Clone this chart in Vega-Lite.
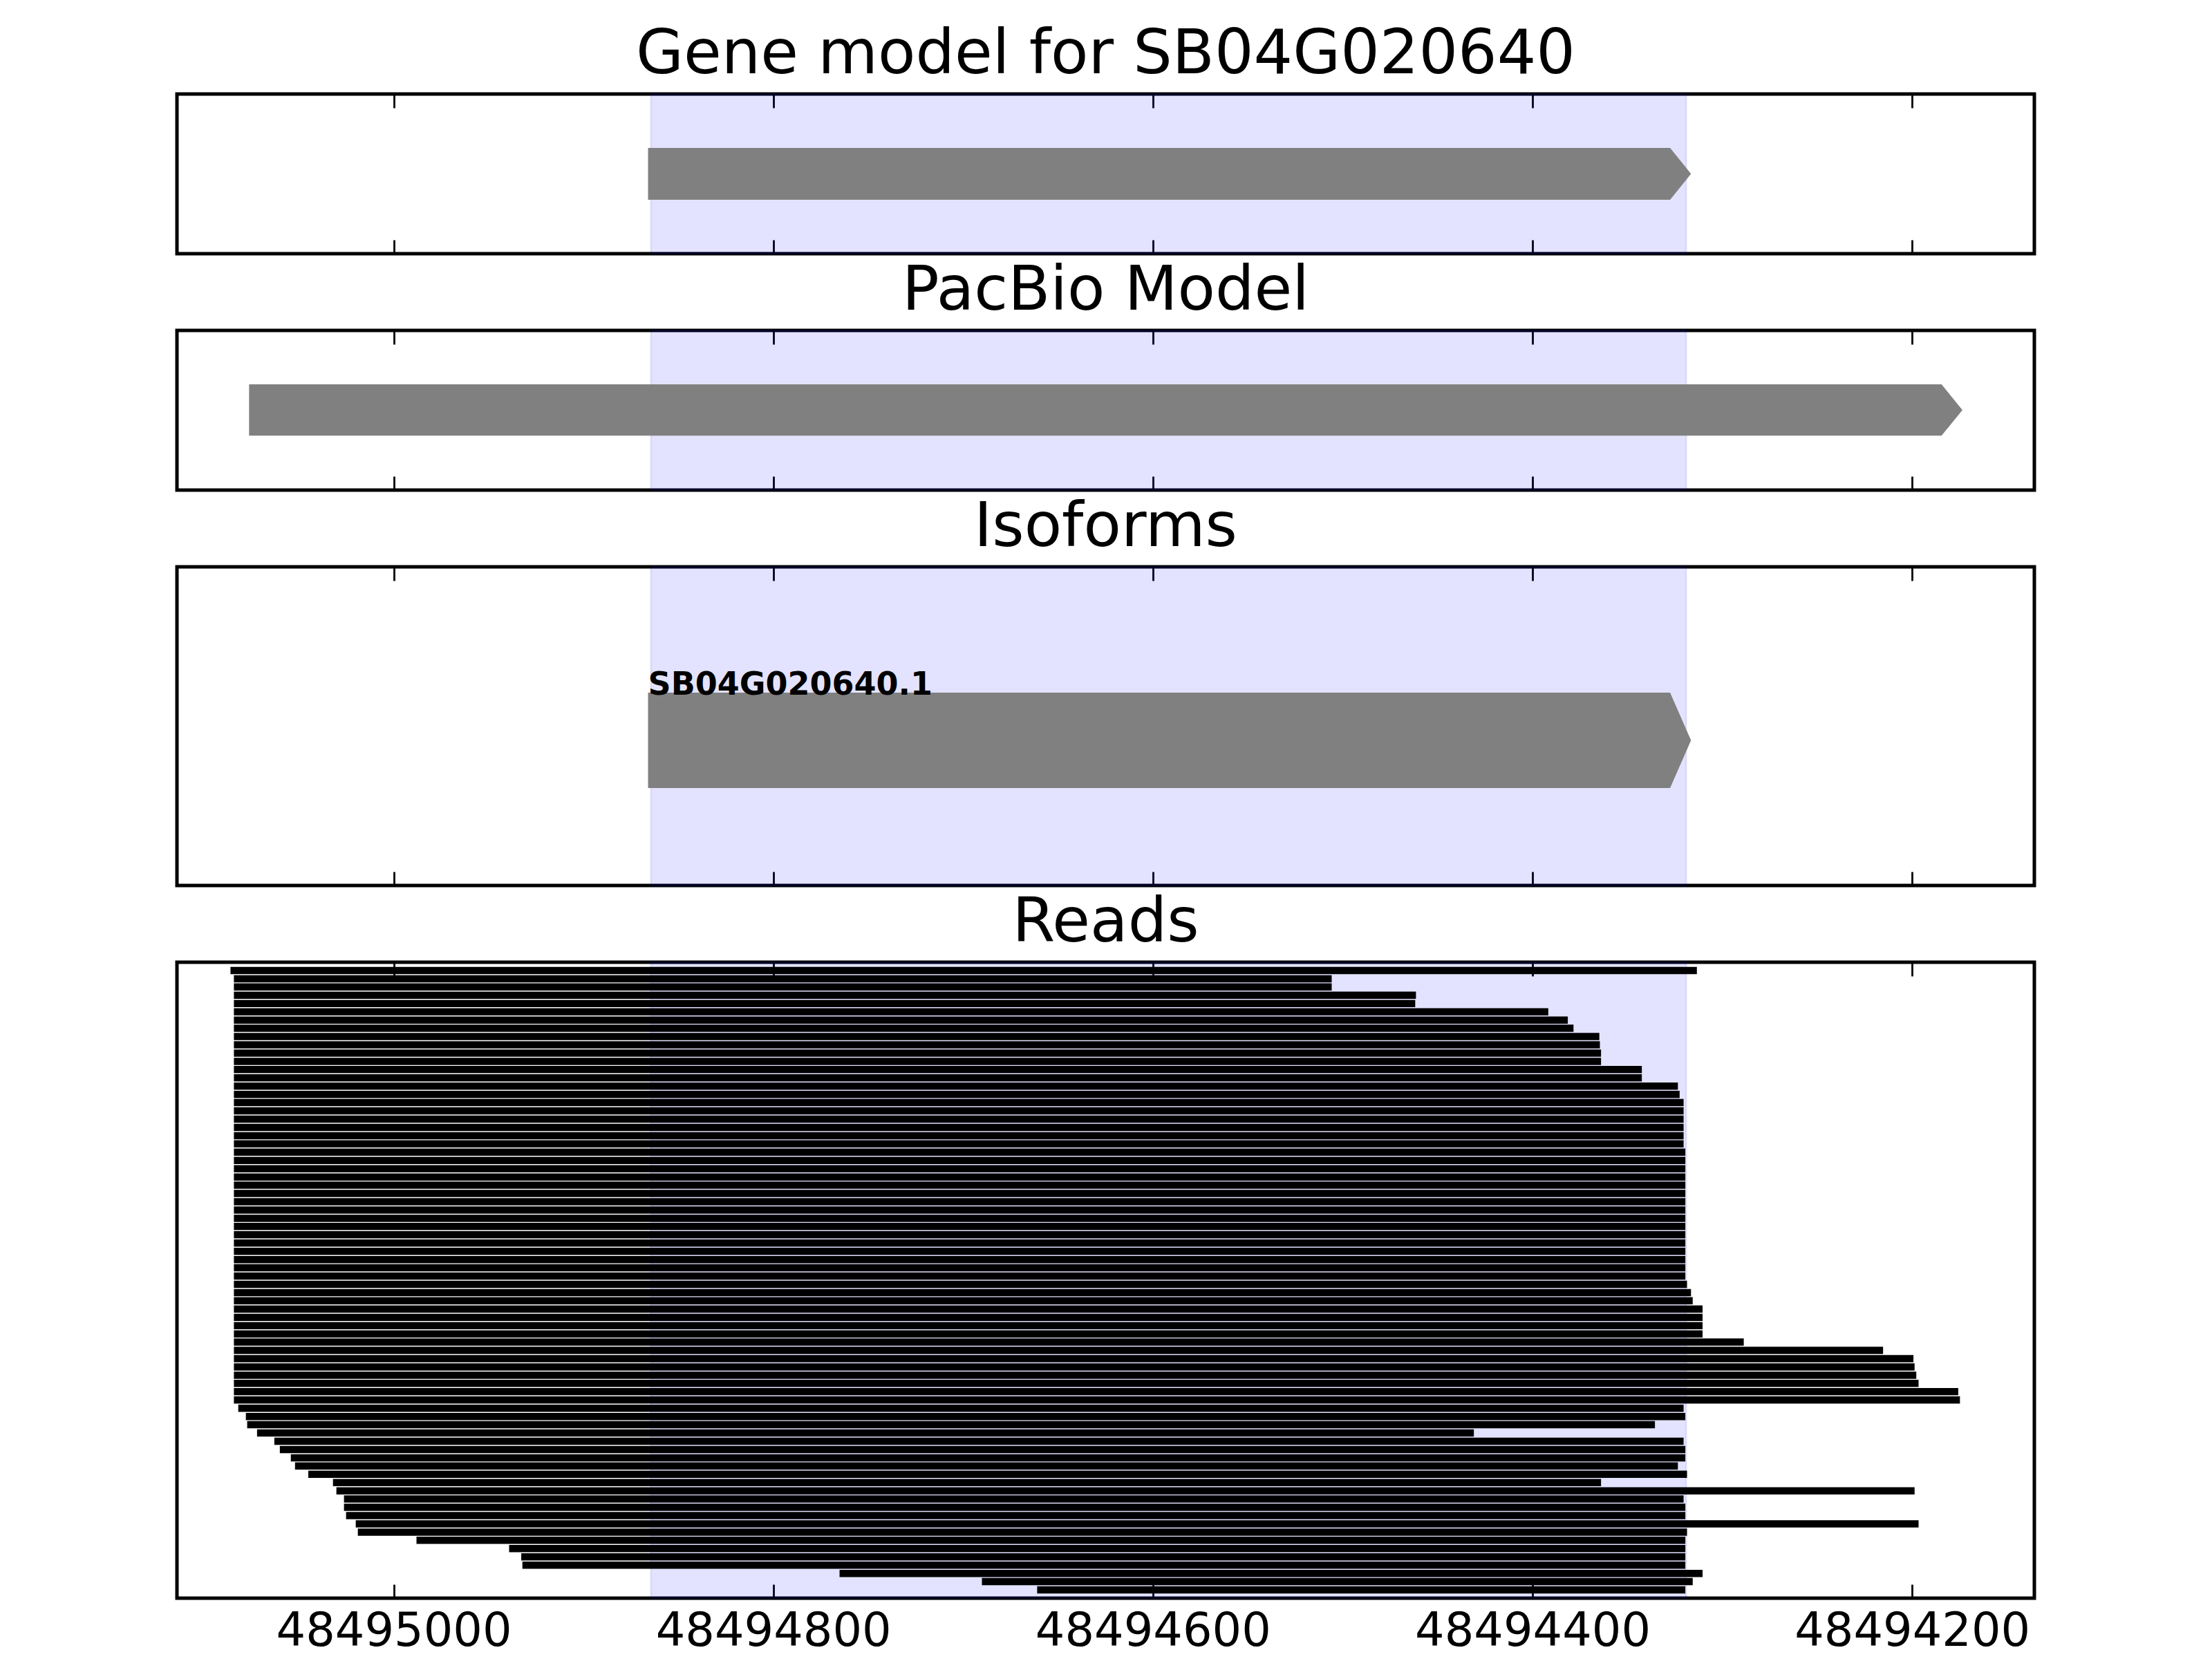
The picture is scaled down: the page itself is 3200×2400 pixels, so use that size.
{
  "$schema": "https://vega.github.io/schema/vega-lite/v6.json",
  "background": "white",
  "padding": {"left": 253, "top": 32, "right": 10, "bottom": 10},
  "spacing": 111,
  "bounds": "flush",
  "config": {
    "view": {"stroke": "black", "strokeWidth": 5},
    "font": "DejaVu Sans",
    "title": {"fontSize": 89, "fontWeight": "normal", "font": "DejaVu Sans", "color": "black", "anchor": "middle", "baseline": "alphabetic", "offset": 10},
    "axis": {"domain": false, "grid": false, "ticks": true, "tickSize": -20, "tickWidth": 2.8, "tickColor": "black", "title": null, "labelFlush": false, "labelOverlap": false, "labelLimit": 0}
  },
  "datasets": {
    "shade": [{"start": 48494864.5, "end": 48494319}],
    "gene": [
      {"pos": 48494866, "lo": 0.338, "hi": 0.662},
      {"pos": 48494327.5, "lo": 0.338, "hi": 0.662},
      {"pos": 48494316.5, "lo": 0.5, "hi": 0.5}
    ],
    "pacbio": [
      {"pos": 48495076.2, "lo": 0.341, "hi": 0.662},
      {"pos": 48494184.5, "lo": 0.341, "hi": 0.662},
      {"pos": 48494173.5, "lo": 0.5015, "hi": 0.5015}
    ],
    "isoform": [
      {"pos": 48494866, "lo": 0.306, "hi": 0.605},
      {"pos": 48494327.5, "lo": 0.306, "hi": 0.605},
      {"pos": 48494316.5, "lo": 0.4555, "hi": 0.4555}
    ],
    "isolabel": [{"name": "SB04G020640.1", "start": 48494866}],
    "reads": [
      {"row": 1, "start": 48495086.0, "end": 48494313.4},
      {"row": 2, "start": 48495084.2, "end": 48494505.8},
      {"row": 3, "start": 48495084.2, "end": 48494505.8},
      {"row": 4, "start": 48495084.2, "end": 48494461.4},
      {"row": 5, "start": 48495084.2, "end": 48494461.8},
      {"row": 6, "start": 48495084.2, "end": 48494391.7},
      {"row": 7, "start": 48495084.2, "end": 48494381.4},
      {"row": 8, "start": 48495084.2, "end": 48494378.4},
      {"row": 9, "start": 48495084.2, "end": 48494364.8},
      {"row": 10, "start": 48495084.2, "end": 48494364.5},
      {"row": 11, "start": 48495084.2, "end": 48494363.9},
      {"row": 12, "start": 48495084.2, "end": 48494363.9},
      {"row": 13, "start": 48495084.2, "end": 48494342.4},
      {"row": 14, "start": 48495084.2, "end": 48494342.4},
      {"row": 15, "start": 48495084.2, "end": 48494323.4},
      {"row": 16, "start": 48495084.2, "end": 48494322.5},
      {"row": 17, "start": 48495084.2, "end": 48494320.4},
      {"row": 18, "start": 48495084.2, "end": 48494320.4},
      {"row": 19, "start": 48495084.2, "end": 48494320.4},
      {"row": 20, "start": 48495084.2, "end": 48494320.4},
      {"row": 21, "start": 48495084.2, "end": 48494320.4},
      {"row": 22, "start": 48495084.2, "end": 48494320.4},
      {"row": 23, "start": 48495084.2, "end": 48494319.5},
      {"row": 24, "start": 48495084.2, "end": 48494319.5},
      {"row": 25, "start": 48495084.2, "end": 48494319.5},
      {"row": 26, "start": 48495084.2, "end": 48494319.5},
      {"row": 27, "start": 48495084.2, "end": 48494319.5},
      {"row": 28, "start": 48495084.2, "end": 48494319.5},
      {"row": 29, "start": 48495084.2, "end": 48494319.5},
      {"row": 30, "start": 48495084.2, "end": 48494319.5},
      {"row": 31, "start": 48495084.2, "end": 48494319.5},
      {"row": 32, "start": 48495084.2, "end": 48494319.5},
      {"row": 33, "start": 48495084.2, "end": 48494319.5},
      {"row": 34, "start": 48495084.2, "end": 48494319.5},
      {"row": 35, "start": 48495084.2, "end": 48494319.5},
      {"row": 36, "start": 48495084.2, "end": 48494319.5},
      {"row": 37, "start": 48495084.2, "end": 48494319.5},
      {"row": 38, "start": 48495084.2, "end": 48494319.5},
      {"row": 39, "start": 48495084.2, "end": 48494318.6},
      {"row": 40, "start": 48495084.2, "end": 48494316.5},
      {"row": 41, "start": 48495084.2, "end": 48494315.6},
      {"row": 42, "start": 48495084.2, "end": 48494310.4},
      {"row": 43, "start": 48495084.2, "end": 48494310.4},
      {"row": 44, "start": 48495084.2, "end": 48494310.4},
      {"row": 45, "start": 48495084.2, "end": 48494310.4},
      {"row": 46, "start": 48495084.2, "end": 48494288.7},
      {"row": 47, "start": 48495084.2, "end": 48494215.3},
      {"row": 48, "start": 48495084.2, "end": 48494199.3},
      {"row": 49, "start": 48495084.2, "end": 48494198.7},
      {"row": 50, "start": 48495084.2, "end": 48494197.8},
      {"row": 51, "start": 48495084.2, "end": 48494196.6},
      {"row": 52, "start": 48495084.2, "end": 48494175.7},
      {"row": 53, "start": 48495084.2, "end": 48494174.8},
      {"row": 54, "start": 48495081.9, "end": 48494320.4},
      {"row": 55, "start": 48495077.9, "end": 48494319.5},
      {"row": 56, "start": 48495077.2, "end": 48494335.5},
      {"row": 57, "start": 48495072.0, "end": 48494430.9},
      {"row": 58, "start": 48495062.9, "end": 48494320.4},
      {"row": 59, "start": 48495060.0, "end": 48494319.5},
      {"row": 60, "start": 48495054.2, "end": 48494319.5},
      {"row": 61, "start": 48495052.0, "end": 48494323.4},
      {"row": 62, "start": 48495045.0, "end": 48494318.6},
      {"row": 63, "start": 48495032.0, "end": 48494363.9},
      {"row": 64, "start": 48495030.2, "end": 48494198.7},
      {"row": 65, "start": 48495026.2, "end": 48494320.4},
      {"row": 66, "start": 48495026.2, "end": 48494319.5},
      {"row": 67, "start": 48495025.1, "end": 48494319.5},
      {"row": 68, "start": 48495020.0, "end": 48494196.6},
      {"row": 69, "start": 48495018.9, "end": 48494318.6},
      {"row": 70, "start": 48494988.0, "end": 48494319.5},
      {"row": 71, "start": 48494939.2, "end": 48494319.5},
      {"row": 72, "start": 48494932.8, "end": 48494319.5},
      {"row": 73, "start": 48494932.2, "end": 48494319.5},
      {"row": 74, "start": 48494765.1, "end": 48494310.4},
      {"row": 75, "start": 48494690.1, "end": 48494315.6},
      {"row": 76, "start": 48494661.0, "end": 48494319.5}
    ]
  },
  "vconcat": [
    {
      "title": "Gene model for SB04G020640",
      "width": 2687,
      "height": 231,
      "resolve": {"axis": {"x": "independent"}},
      "layer": [
        {
          "data": {"name": "shade"},
          "mark": {"type": "rect", "fill": "#0000ff", "fillOpacity": 0.11, "stroke": "#0000ff", "strokeOpacity": 0.08, "strokeWidth": 3},
          "encoding": {
            "x": {"field": "start", "type": "quantitative", "scale": {"domain": [48495114.2, 48494135.6], "nice": false, "zero": false}, "axis": {"orient": "top", "labels": false, "values": [48495000, 48494800, 48494600, 48494400, 48494200]}},
            "x2": {"field": "end"}
          }
        },
        {
          "data": {"name": "gene"},
          "mark": {"type": "area", "color": "#808080", "interpolate": "linear"},
          "encoding": {
            "x": {"field": "pos", "type": "quantitative", "axis": {"orient": "bottom", "labels": false, "values": [48495000, 48494800, 48494600, 48494400, 48494200]}},
            "y": {"field": "hi", "type": "quantitative", "scale": {"domain": [0, 1], "nice": false, "zero": false}, "axis": null},
            "y2": {"field": "lo"}
          }
        }
      ]
    },
    {
      "title": "PacBio Model",
      "width": 2687,
      "height": 231,
      "resolve": {"axis": {"x": "independent"}},
      "layer": [
        {
          "data": {"name": "shade"},
          "mark": {"type": "rect", "fill": "#0000ff", "fillOpacity": 0.11, "stroke": "#0000ff", "strokeOpacity": 0.08, "strokeWidth": 3},
          "encoding": {
            "x": {"field": "start", "type": "quantitative", "scale": {"domain": [48495114.2, 48494135.6], "nice": false, "zero": false}, "axis": {"orient": "top", "labels": false, "values": [48495000, 48494800, 48494600, 48494400, 48494200]}},
            "x2": {"field": "end"}
          }
        },
        {
          "data": {"name": "pacbio"},
          "mark": {"type": "area", "color": "#808080", "interpolate": "linear"},
          "encoding": {
            "x": {"field": "pos", "type": "quantitative", "axis": {"orient": "bottom", "labels": false, "values": [48495000, 48494800, 48494600, 48494400, 48494200]}},
            "y": {"field": "hi", "type": "quantitative", "scale": {"domain": [0, 1], "nice": false, "zero": false}, "axis": null},
            "y2": {"field": "lo"}
          }
        }
      ]
    },
    {
      "title": "Isoforms",
      "width": 2687,
      "height": 461,
      "resolve": {"axis": {"x": "independent"}},
      "layer": [
        {
          "data": {"name": "shade"},
          "mark": {"type": "rect", "fill": "#0000ff", "fillOpacity": 0.11, "stroke": "#0000ff", "strokeOpacity": 0.08, "strokeWidth": 3},
          "encoding": {
            "x": {"field": "start", "type": "quantitative", "scale": {"domain": [48495114.2, 48494135.6], "nice": false, "zero": false}, "axis": {"orient": "top", "labels": false, "values": [48495000, 48494800, 48494600, 48494400, 48494200]}},
            "x2": {"field": "end"}
          }
        },
        {
          "data": {"name": "isoform"},
          "mark": {"type": "area", "color": "#808080", "interpolate": "linear"},
          "encoding": {
            "x": {"field": "pos", "type": "quantitative", "axis": {"orient": "bottom", "labels": false, "values": [48495000, 48494800, 48494600, 48494400, 48494200]}},
            "y": {"field": "hi", "type": "quantitative", "scale": {"domain": [0, 1], "nice": false, "zero": false}, "axis": null},
            "y2": {"field": "lo"}
          }
        },
        {
          "data": {"name": "isolabel"},
          "mark": {"type": "text", "font": "DejaVu Sans", "fontWeight": "bold", "fontSize": 46, "align": "left", "baseline": "alphabetic", "dy": 3, "color": "black"},
          "encoding": {
            "x": {"field": "start", "type": "quantitative", "axis": null},
            "y": {"datum": 0.605, "type": "quantitative"},
            "text": {"field": "name"}
          }
        }
      ]
    },
    {
      "title": "Reads",
      "width": 2687,
      "height": 920,
      "resolve": {"axis": {"x": "independent"}},
      "layer": [
        {
          "data": {"name": "shade"},
          "mark": {"type": "rect", "fill": "#0000ff", "fillOpacity": 0.11, "stroke": "#0000ff", "strokeOpacity": 0.08, "strokeWidth": 3},
          "encoding": {
            "x": {"field": "start", "type": "quantitative", "scale": {"domain": [48495114.2, 48494135.6], "nice": false, "zero": false}, "axis": {"orient": "top", "labels": false, "values": [48495000, 48494800, 48494600, 48494400, 48494200]}},
            "x2": {"field": "end"}
          }
        },
        {
          "data": {"name": "reads"},
          "mark": {"type": "rule", "color": "black", "strokeWidth": 10.5, "strokeCap": "butt"},
          "encoding": {
            "x": {"field": "start", "type": "quantitative", "axis": {"orient": "bottom", "labels": true, "values": [48495000, 48494800, 48494600, 48494400, 48494200], "format": "d", "labelFont": "DejaVu Sans", "labelFontSize": 67, "labelColor": "black", "labelPadding": 35, "labelLimit": 0}},
            "x2": {"field": "end"},
            "y": {"field": "row", "type": "quantitative", "scale": {"domain": [0, 77], "reverse": true, "nice": false, "zero": false}, "axis": null}
          }
        }
      ]
    }
  ]
}
